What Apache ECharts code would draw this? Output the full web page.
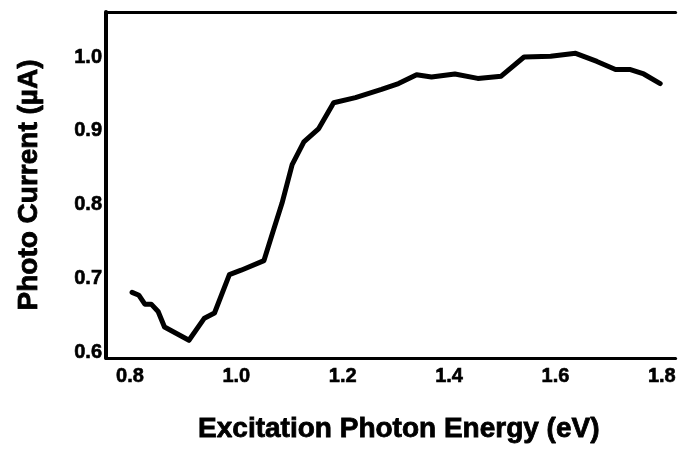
<!DOCTYPE html>
<html>
<head>
<meta charset="utf-8">
<style>
  html, body { margin: 0; padding: 0; background: #fff; }
  #chart { width: 679px; height: 449px; }
</style>
<script src="https://cdn.jsdelivr.net/npm/echarts@6/dist/echarts.min.js"></script>
</head>
<body>
<div id="chart"></div>
<script>
// Photocurrent spectrum: excitation photon energy vs. measured current
const energy = [0.804, 0.817, 0.828, 0.840, 0.853, 0.865, 0.911, 0.940, 0.959, 0.987,
  1.009, 1.052, 1.068, 1.086, 1.105, 1.127, 1.155, 1.183, 1.224, 1.273, 1.305,
  1.339, 1.367, 1.411, 1.454, 1.498, 1.541, 1.591, 1.638, 1.678, 1.713, 1.741,
  1.766, 1.797];
const current = [0.681, 0.677, 0.665, 0.665, 0.655, 0.634, 0.616, 0.646, 0.653, 0.705,
  0.711, 0.724, 0.761, 0.802, 0.854, 0.885, 0.903, 0.938, 0.945, 0.956, 0.964,
  0.976, 0.973, 0.977, 0.971, 0.974, 1.000, 1.001, 1.005, 0.994, 0.983, 0.983,
  0.977, 0.964];

const xTicks = [0.8, 1.0, 1.2, 1.4, 1.6, 1.8];
const yTicks = [0.6, 0.7, 0.8, 0.9, 1.0];

const FONT = "'Liberation Sans', Arial, sans-serif";

const chart = echarts.init(document.getElementById('chart'), null, { renderer: 'canvas' });

const labelStyle = {
  color: '#000',
  fontFamily: FONT,
  fontWeight: 'bold',
  fontSize: 20,
  textBorderColor: '#000',
  textBorderWidth: 0.6
};

const nameStyle = {
  color: '#000',
  fontFamily: FONT,
  fontWeight: 'bold',
  fontSize: 28,
  textBorderColor: '#000',
  textBorderWidth: 0.8
};

chart.setOption({
  animation: false,
  backgroundColor: '#fff',
  grid: { left: 106, top: 12, right: 0, bottom: 91 },
  xAxis: [{
    type: 'value',
    min: 0.755,
    max: 1.826,
    position: 'bottom',
    name: 'Excitation Photon Energy (eV)',
    nameLocation: 'middle',
    nameGap: 57,
    nameTextStyle: Object.assign({ padding: [0, 0, 0, 16] }, nameStyle),
    axisLine: { show: true, lineStyle: { color: '#000', width: 3 } },
    axisTick: { show: false },
    splitLine: { show: false },
    axisLabel: Object.assign({
      customValues: xTicks,
      margin: 8,
      formatter: v => v.toFixed(1)
    }, labelStyle)
  }, {
    type: 'value',
    min: 0.755,
    max: 1.826,
    position: 'top',
    axisLine: { show: true, onZero: false, lineStyle: { color: '#000', width: 3 } },
    axisTick: { show: false },
    axisLabel: { show: false },
    splitLine: { show: false }
  }],
  yAxis: {
    type: 'value',
    min: 0.592,
    max: 1.061,
    name: 'Photo Current (\u00b5A)',
    nameLocation: 'middle',
    nameGap: 63,
    nameTextStyle: nameStyle,
    axisLine: { show: true, lineStyle: { color: '#000', width: 4 } },
    axisTick: { show: false },
    splitLine: { show: false },
    axisLabel: Object.assign({
      customValues: yTicks,
      margin: 4,
      formatter: v => v.toFixed(1)
    }, labelStyle)
  },
  series: [{
    type: 'line',
    xAxisIndex: 0,
    data: energy.map((e, i) => [e, current[i]]),
    showSymbol: false,
    smooth: false,
    lineStyle: { color: '#000', width: 5, join: 'round', cap: 'round' }
  }]
});
</script>
</body>
</html>
